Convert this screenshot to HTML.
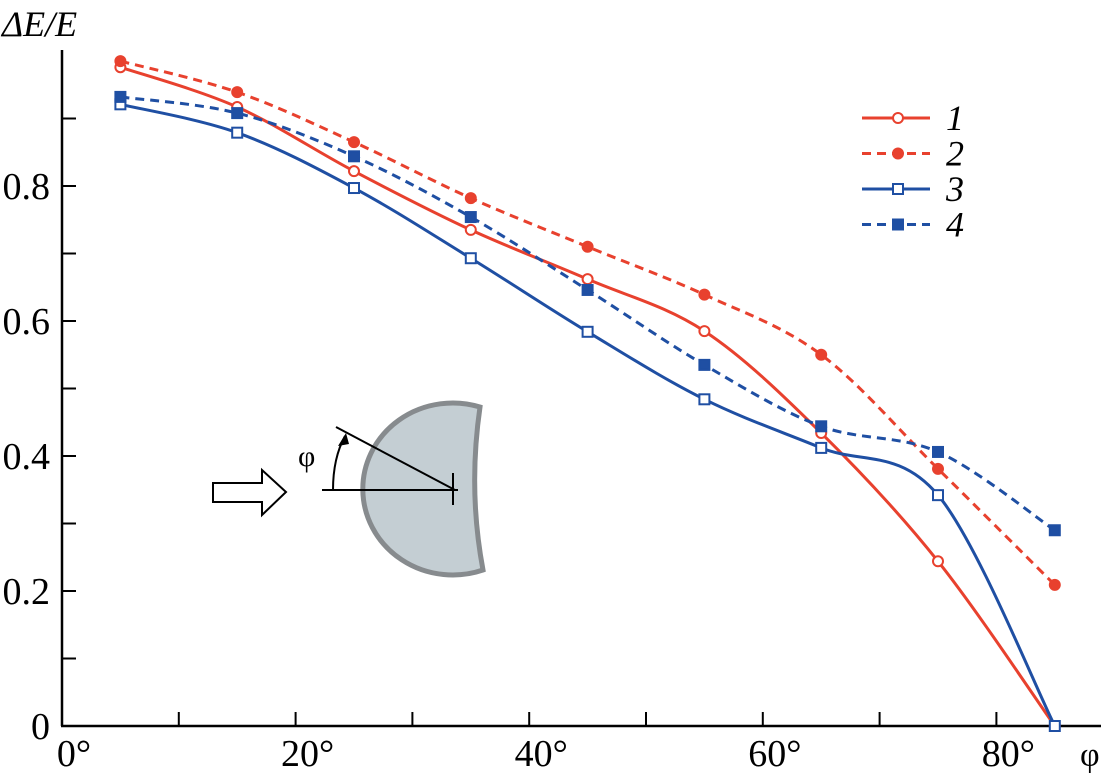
<!DOCTYPE html>
<html><head><meta charset="utf-8"><style>
body{margin:0;background:#fff;}
svg{display:block;font-family:"Liberation Serif","DejaVu Serif",serif;}
svg text{font-family:"Liberation Serif","DejaVu Serif",serif;}
</style></head><body>
<svg id="chart" width="1113" height="780" viewBox="0 0 1113 780">
<g id="axes"></g>
<g id="inset">
  <path d="M480,407 A90,86 0 1 0 483,570 Q468,490 480,407 Z" fill="#c4ced3" stroke="#878b8e" stroke-width="5"/>
  <path d="M213,483 L262,483 L262,470 L286,492 L262,515 L262,502 L213,502 Z" fill="#fff" stroke="#000" stroke-width="2"/>
  <line x1="322" y1="490" x2="458" y2="490" stroke="#000" stroke-width="2"/>
  <line x1="453" y1="473" x2="453" y2="505" stroke="#000" stroke-width="2"/>
  <line x1="336" y1="427" x2="455" y2="490" stroke="#000" stroke-width="2"/>
  <path d="M333,490 Q333,458 345,436" fill="none" stroke="#000" stroke-width="2"/>
  <path d="M346,433 L338,446 L349,444 Z" fill="#000"/>
  <text x="298" y="466" font-size="30" font-family="Liberation Serif, DejaVu Serif, serif">φ</text>
</g>
<g id="series"></g>
<g id="legend"></g>
</svg>
<script>
const categories=[5,15,25,35,45,55,65,75,85];
const s1=[0.976,0.917,0.822,0.735,0.662,0.585,0.434,0.244,0.0];
const s2=[0.985,0.939,0.865,0.782,0.710,0.639,0.550,0.381,0.209];
const s3=[0.921,0.879,0.797,0.693,0.584,0.484,0.412,0.342,0.0];
const s4=[0.932,0.908,0.844,0.754,0.646,0.535,0.444,0.406,0.290];
const yTicks=[0,0.2,0.4,0.6,0.8];
const yTickLabels=["0","0.2","0.4","0.6","0.8"];
const xTicks=[0,20,40,60,80];
const xTickLabels=["0°","20°","40°","60°","80°"];
const seriesNames=["1","2","3","4"];
const NS="http://www.w3.org/2000/svg";
const FF='"Liberation Serif","DejaVu Serif",serif';
const X=v=>62+v*11.68, Y=v=>726-v*675;
function mk(tag,attrs,parent){const e=document.createElementNS(NS,tag);for(const k in attrs)e.setAttribute(k,attrs[k]);if(tag==='text')e.setAttribute('font-family',FF);parent.appendChild(e);return e;}
const axes=document.getElementById('axes');
let l=mk('line',{x1:62,y1:50,x2:62,y2:726,stroke:'#000','stroke-width':2.5},axes);


l=mk('line',{x1:61,y1:726,x2:1101,y2:726,stroke:'#000','stroke-width':2.5},axes);


for(let v=0.1;v<0.95;v+=0.1){const t=mk('line',{x1:62,y1:Y(v),x2:76,y2:Y(v),stroke:'#000','stroke-width':2},axes);

}
for(let v=10;v<=80;v+=10){const t=mk('line',{x1:X(v),y1:726,x2:X(v),y2:712,stroke:'#000','stroke-width':2},axes);

}
yTicks.forEach((v,i)=>{const t=mk('text',{x:50,y:Y(v)+13,'text-anchor':'end','font-size':38},axes);t.textContent=yTickLabels[i];

});
xTicks.forEach((v,i)=>{const t=mk('text',{x:X(v)+12,y:766,'text-anchor':'middle','font-size':38},axes);t.textContent=xTickLabels[i];

});
let t=mk('text',{x:2,y:36,'font-size':36,'font-style':'italic'},axes);t.textContent='ΔE/E';


t=mk('text',{x:1080,y:766,'font-size':34},axes);t.textContent='φ';


function smooth(pts){let d=`M${pts[0][0]},${pts[0][1]}`;for(let i=0;i<pts.length-1;i++){const p0=pts[i-1]||pts[i],p1=pts[i],p2=pts[i+1],p3=pts[i+2]||p2;
d+=` C${p1[0]+(p2[0]-p0[0])/6},${p1[1]+(p2[1]-p0[1])/6} ${p2[0]-(p3[0]-p1[0])/6},${p2[1]-(p3[1]-p1[1])/6} ${p2[0]},${p2[1]}`;}return d;}
const RED='#e8412e',BLUE='#1f4fa3';
const defs=[{d:s1,c:RED,dash:null,m:'circle',fill:false},{d:s2,c:RED,dash:'9,6',m:'circle',fill:true},{d:s3,c:BLUE,dash:null,m:'square',fill:false},{d:s4,c:BLUE,dash:'9,6',m:'square',fill:true}];
const sg=document.getElementById('series');
function marker(g,m,x,y,c,fill){let e;if(m==='circle')e=mk('circle',{cx:x,cy:y,r:5,fill:fill?c:'#fff',stroke:c,'stroke-width':2},g);
else e=mk('rect',{x:x-5,y:y-5,width:10,height:10,fill:fill?c:'#fff',stroke:c,'stroke-width':2},g);return e;}
defs.forEach((s,k)=>{const g=mk('g',{},sg);


const pts=categories.map((c,i)=>[X(c),Y(s.d[i])]);
const p=mk('path',{d:smooth(pts),fill:'none',stroke:s.c,'stroke-width':3},g);if(s.dash)p.setAttribute('stroke-dasharray',s.dash);


pts.forEach(q=>{const e=marker(g,s.m,q[0],q[1],s.c,s.fill);

});
const lg=document.getElementById('legend');const ly=118+k*35.5;
const le=mk('g',{},lg);


const ll=mk('line',{x1:862,y1:ly,x2:930,y2:ly,stroke:s.c,'stroke-width':3},le);if(s.dash)ll.setAttribute('stroke-dasharray',s.dash);
marker(le,s.m,898,ly,s.c,s.fill);
const lt=mk('text',{x:946,y:ly+12,'font-size':36,'font-style':'italic'},le);lt.textContent=seriesNames[k];});
</script>
</body></html>
